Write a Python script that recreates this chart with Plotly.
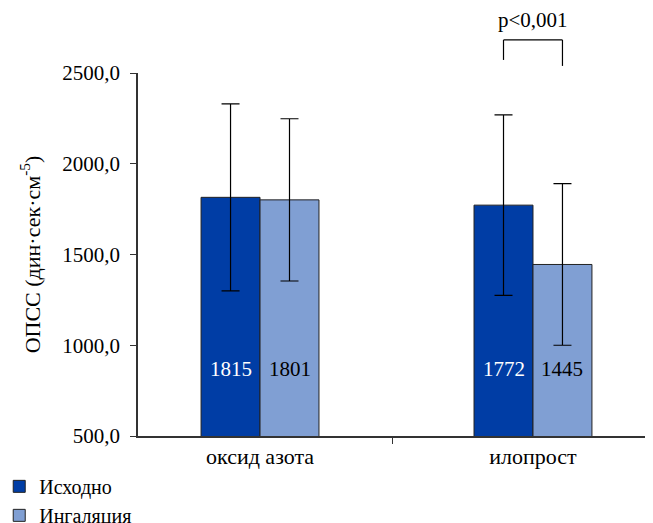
import plotly.graph_objects as go

categories = ["оксид азота", "илопрост"]
series_names = ["Исходно", "Ингаляция"]
values_base = [1815, 1772]
values_inh = [1801, 1445]
err_base = [515, 497]
err_inh = [447, 445]
colors = ["#003DA5", "#809FD3"]
label_colors = ["white", "black"]
y_ticks = [500, 1000, 1500, 2000, 2500]
y_ticklabels = ["500,0", "1000,0", "1500,0", "2000,0", "2500,0"]
label_y = 870
p_text = "p<0,001"

FONT = "'Liberation Serif', 'Times New Roman', 'DejaVu Serif', serif"
BAR_W = 0.216                 # width of one bar in category units
X_RANGE = [-0.447, 1.436]     # axis extent around category positions
BOUNDARY_TICKS = [0.484, 1.436]

xpos = list(range(len(categories)))

fig = go.Figure()
for si, (name, vals, errs, col) in enumerate([
    (series_names[0], values_base, err_base, colors[0]),
    (series_names[1], values_inh, err_inh, colors[1]),
]):
    fig.add_trace(go.Bar(
        name=name, x=xpos, y=vals, marker_color=col,
        width=BAR_W, offset=(si - 1) * BAR_W,
        marker_line=dict(color="#222222", width=1),
        error_y=dict(type="data", array=errs, visible=True, color="black",
                     thickness=1.2, width=9),
    ))

# value labels inside bars
for si, (vals, lc) in enumerate([(values_base, label_colors[0]), (values_inh, label_colors[1])]):
    for ci, v in enumerate(vals):
        fig.add_annotation(x=xpos[ci] + (si - 0.5) * BAR_W, y=label_y, xref="x", yref="y",
                           text=str(v), showarrow=False,
                           font=dict(family=FONT, size=21, color=lc))

# significance bracket over second category
ymin, ymax = 500, 2500
def yp(v):
    return (v - ymin) / (ymax - ymin)
def xp(c):
    return (c - X_RANGE[0]) / (X_RANGE[1] - X_RANGE[0])
xl = xp(xpos[1] - 0.5 * BAR_W)
xr = xp(xpos[1] + 0.5 * BAR_W)
line = dict(color="black", width=1.2)
fig.add_shape(type="line", xref="paper", yref="paper", x0=xl, x1=xr, y0=yp(2682), y1=yp(2682), line=line)
fig.add_shape(type="line", xref="paper", yref="paper", x0=xl, x1=xl, y0=yp(2682), y1=yp(2572), line=line)
fig.add_shape(type="line", xref="paper", yref="paper", x0=xr, x1=xr, y0=yp(2682), y1=yp(2539), line=line)
fig.add_annotation(xref="paper", yref="paper", x=(xl + xr) / 2, y=yp(2682), yshift=6,
                   xanchor="center", yanchor="bottom", text=p_text, showarrow=False,
                   font=dict(family=FONT, size=21, color="black"))

fig.update_layout(
    width=645, height=515,
    margin=dict(l=130, r=1, t=65, b=87, autoexpand=False),
    paper_bgcolor="white", plot_bgcolor="white",
    font=dict(family=FONT, size=21, color="black"),
    showlegend=True,
    legend=dict(x=-0.270, xanchor="left", y=-0.085, yanchor="top",
                font=dict(family=FONT, size=20), tracegroupgap=0,
                bgcolor="rgba(0,0,0,0)"),
    xaxis=dict(range=X_RANGE, tickvals=xpos, ticktext=categories, ticks="",
               showline=True, linecolor="#333333", linewidth=1.5,
               showgrid=False, zeroline=False, automargin=False,
               minor=dict(tickvals=BOUNDARY_TICKS, ticks="outside", ticklen=6,
                          tickcolor="#333333", showgrid=False),
               tickfont=dict(family=FONT, size=22)),
    yaxis=dict(range=[ymin, ymax], tickvals=y_ticks, ticktext=y_ticklabels,
               showline=True, linecolor="#333333", linewidth=1.5, ticks="outside",
               ticklen=6, tickcolor="#333333", showgrid=False, zeroline=False,
               automargin=False, tickfont=dict(family=FONT, size=21),
               ticklabelstandoff=6,
               title=dict(text="ОПСС (дин·сек·см<sup>-5</sup>)", standoff=16,
                          font=dict(family=FONT, size=22))),
)

fig.write_html("out.html")
